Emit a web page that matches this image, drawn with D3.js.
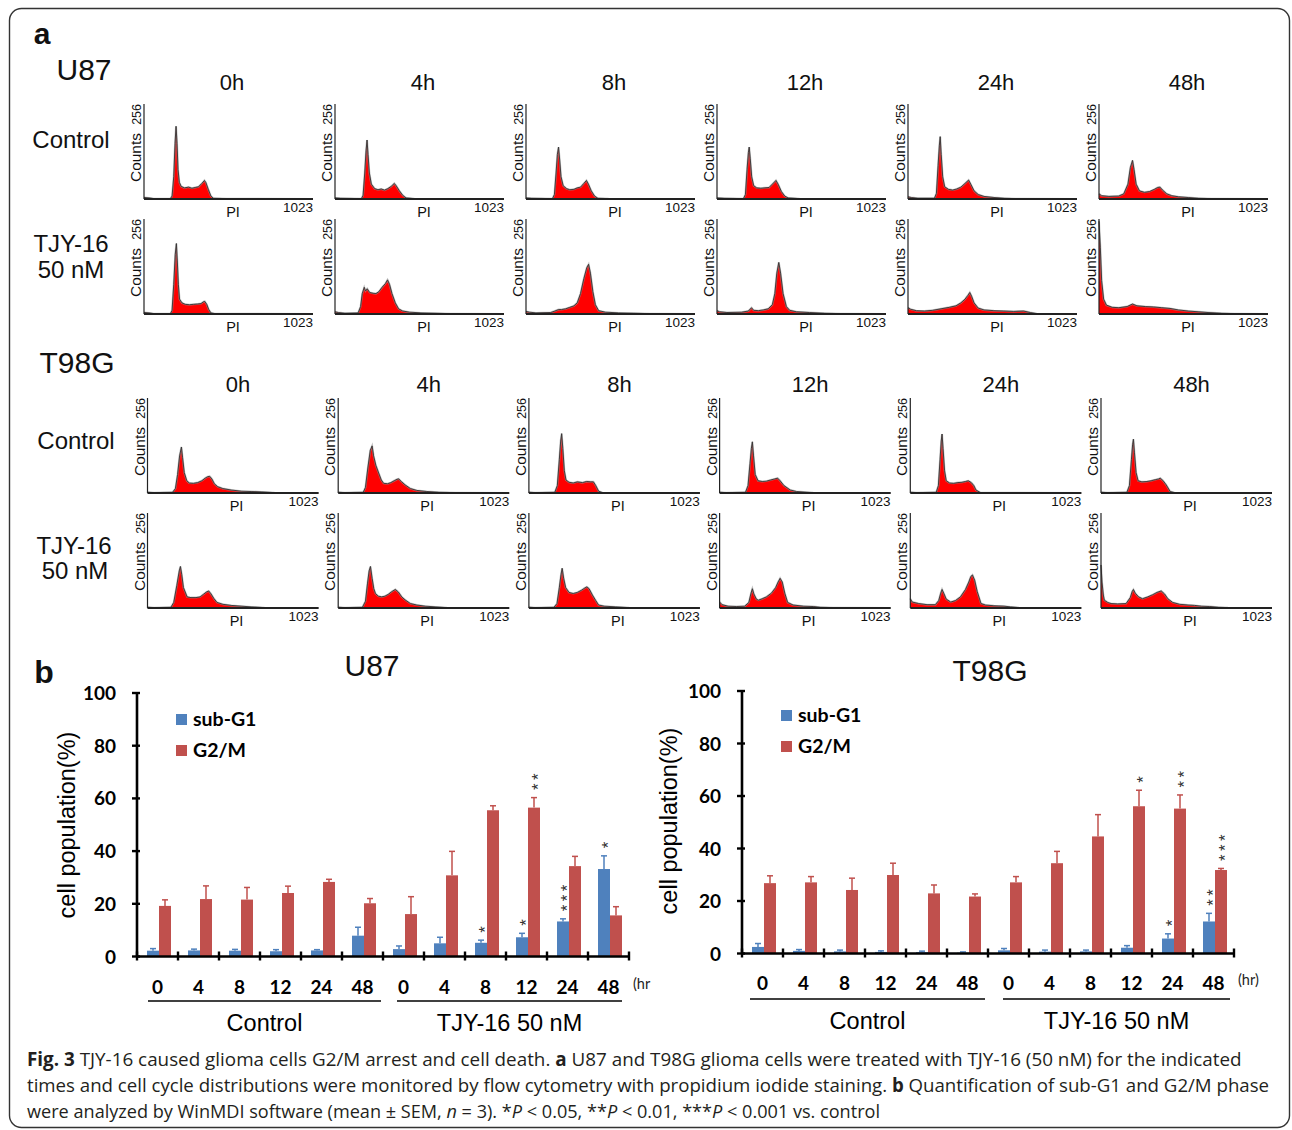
<!DOCTYPE html>
<html>
<head>
<meta charset="utf-8">
<script src="https://cdn.jsdelivr.net/npm/d3@7"></script>
<style>
  body { margin: 0; background: #fff; }
  svg { display: block; }
</style>
</head>
<body>
<div id="figure"></div>
<script>
// ---- data ----
const hours = ['0h', '4h', '8h', '12h', '24h', '48h']
const groupNames = ['Control', 'TJY-16 50 nM']
const hrLabels = ['0', '4', '8', '12', '24', '48', '0', '4', '8', '12', '24', '48']
const yTicks = [0, 20, 40, 60, 80, 100]
const seriesNames = ['sub-G1', 'G2/M']

// flow histograms, [PI channel, counts], one array per time point
const u87Control = [
  [[0,4],[30,3],[60,1],[160,1],[170,8],[180,60],[188,150],[194,196],[200,150],[206,80],[214,45],[225,34],[245,30],[270,32],[290,29],[310,31],[330,33],[350,42],[366,50],[375,44],[390,25],[405,8],[420,2],[500,1],[1023,0]],
  [[0,3],[30,2],[160,1],[170,10],[180,70],[188,130],[194,159],[200,120],[208,70],[220,40],[240,28],[260,25],[280,27],[300,24],[320,28],[340,34],[359,42],[370,36],[390,22],[410,10],[430,3],[480,1],[1023,0]],
  [[0,3],[30,2],[160,1],[172,12],[182,70],[190,120],[197,140],[204,105],[212,60],[225,36],[245,28],[265,25],[290,26],[310,30],[330,32],[350,42],[366,50],[378,40],[395,22],[415,8],[435,2],[500,1],[1023,0]],
  [[0,3],[40,2],[160,1],[172,12],[182,80],[190,125],[195,140],[201,110],[210,60],[222,36],[240,30],[265,29],[290,30],[315,31],[335,40],[357,50],[370,40],[390,20],[410,8],[430,3],[500,1],[1023,0]],
  [[0,6],[20,4],[60,2],[160,2],[172,15],[182,90],[190,145],[195,168],[201,120],[210,60],[222,33],[245,26],[270,24],[295,27],[320,32],[345,42],[367,51],[380,40],[400,22],[425,12],[460,7],[520,4],[580,2],[650,1],[1023,0]],
  [[0,14],[15,9],[60,7],[120,8],[150,14],[175,40],[190,85],[203,104],[212,80],[225,40],[245,22],[275,18],[305,20],[335,26],[355,31],[369,32],[385,24],[410,14],[440,9],[480,6],[540,4],[600,2],[680,1],[1023,0]]
]
const u87Tjy = [
  [[0,4],[30,3],[60,1],[160,1],[170,10],[180,80],[189,160],[196,190],[202,140],[208,80],[215,40],[230,30],[250,26],[275,25],[300,26],[325,27],[345,28],[360,33],[368,34],[380,26],[392,12],[405,3],[430,1],[1023,0]],
  [[0,6],[20,4],[60,2],[140,3],[155,20],[165,55],[177,72],[185,62],[195,68],[210,58],[230,56],[248,55],[265,60],[285,72],[305,82],[318,92],[330,80],[345,55],[365,30],[385,14],[410,8],[450,5],[520,3],[600,2],[700,1],[1023,0]],
  [[0,7],[20,5],[60,3],[150,4],[175,8],[197,12],[215,12],[240,14],[265,18],[290,22],[310,30],[330,55],[350,95],[368,125],[379,134],[390,110],[405,60],[420,25],[440,9],[480,5],[560,3],[650,2],[750,1],[1023,0]],
  [[0,9],[15,6],[60,4],[150,5],[190,8],[209,17],[222,10],[250,9],[280,11],[310,14],[335,25],[350,55],[362,110],[374,139],[385,110],[400,55],[420,20],[440,10],[480,6],[560,4],[650,2],[750,1],[1023,0]],
  [[0,17],[15,13],[50,9],[100,8],[150,10],[200,14],[250,18],[290,22],[320,30],[345,40],[362,50],[374,58],[385,48],[400,30],[425,16],[460,11],[520,9],[580,8],[640,7],[700,8],[740,4],[780,1],[1023,0]],
  [[0,250],[8,180],[16,90],[28,40],[45,24],[80,18],[120,17],[170,20],[203,27],[230,22],[280,20],[330,19],[380,17],[430,15],[480,11],[540,8],[600,6],[660,4],[740,2],[820,1],[1023,0]]
]
const t98gControl = [
  [[0,2],[40,1],[150,2],[167,12],[180,50],[192,100],[203,124],[210,95],[220,55],[235,33],[250,27],[275,26],[300,28],[325,33],[345,40],[360,44],[372,45],[385,38],[400,25],[420,17],[450,12],[500,8],[560,5],[620,4],[680,3],[760,1],[850,0],[1023,0]],
  [[0,2],[40,1],[150,2],[163,15],[178,70],[192,115],[203,127],[212,100],[225,75],[242,54],[258,35],[272,26],[295,25],[315,28],[335,33],[352,37],[362,38],[380,30],[400,22],[432,12],[470,7],[530,4],[600,2],[700,1],[1023,0]],
  [[0,2],[40,1],[155,2],[170,20],[182,90],[190,140],[196,160],[203,120],[212,60],[222,35],[240,29],[265,27],[290,30],[320,28],[345,31],[370,30],[386,30],[400,20],[417,5],[440,1],[1023,0]],
  [[0,2],[40,1],[155,2],[170,20],[182,80],[190,120],[196,138],[203,100],[213,50],[230,33],[255,31],[280,32],[305,35],[330,38],[347,40],[362,33],[385,20],[423,8],[460,4],[520,2],[560,1],[1023,0]],
  [[0,2],[40,1],[155,2],[168,20],[178,90],[185,140],[190,159],[196,120],[205,60],[215,33],[235,27],[260,26],[285,28],[310,29],[330,31],[347,33],[365,28],[380,20],[393,8],[420,1],[1023,0]],
  [[0,2],[40,1],[155,2],[170,20],[182,90],[189,130],[194,145],[200,110],[210,55],[222,33],[245,30],[275,31],[300,33],[325,36],[345,38],[354,40],[370,34],[390,22],[414,4],[440,1],[1023,0]]
]
const t98gTjy = [
  [[0,2],[40,1],[140,2],[157,15],[175,60],[190,100],[197,112],[205,90],[215,55],[237,30],[260,28],[290,28],[315,30],[335,37],[352,43],[366,46],[380,38],[398,25],[416,15],[450,10],[500,7],[560,5],[620,3],[700,1],[1023,0]],
  [[0,2],[40,1],[145,2],[163,18],[175,65],[185,100],[193,112],[203,80],[213,52],[223,39],[240,32],[260,30],[280,32],[300,37],[320,44],[342,50],[360,43],[380,30],[400,22],[432,12],[470,8],[520,5],[580,3],[650,1],[1023,0]],
  [[0,2],[40,1],[150,2],[168,12],[182,55],[192,90],[199,107],[208,80],[220,55],[240,42],[265,39],[290,42],[315,48],[335,54],[347,57],[360,52],[380,35],[400,20],[417,8],[450,5],[520,3],[600,1],[1023,0]],
  [[0,16],[15,9],[50,5],[100,4],[150,5],[175,15],[188,40],[196,52],[205,38],[220,24],[232,21],[255,25],[280,30],[310,40],[335,55],[350,70],[362,80],[375,70],[390,40],[407,15],[440,8],[500,5],[560,4],[600,2],[680,1],[1023,0]],
  [[0,25],[12,16],[50,12],[100,9],[150,9],[170,20],[182,40],[190,50],[200,40],[215,24],[242,16],[270,20],[300,30],[330,50],[350,70],[362,85],[372,89],[385,75],[400,45],[423,12],[450,8],[500,6],[560,5],[600,3],[650,1],[1023,0]],
  [[0,116],[6,70],[14,35],[20,21],[40,15],[60,12],[100,11],[150,12],[175,28],[187,45],[194,50],[205,40],[225,30],[248,25],[280,30],[310,36],[335,42],[360,46],[380,38],[400,25],[429,15],[470,10],[520,8],[560,7],[600,5],[650,4],[700,2],[760,1],[1023,0]]
]

// quantification (%), mean and SEM, 6 control + 6 treated time points
const u87SubG1 = [2.2, 2.3, 2.2, 2.0, 2.3, 7.9, 2.8, 5.0, 5.2, 7.3, 13.3, 33.2]
const u87SubG1Err = [0.8, 0.5, 0.5, 0.6, 0.3, 3.2, 1.2, 2.3, 1.0, 1.5, 1.0, 5.0]
const u87G2M = [19.2, 21.8, 21.6, 24.1, 28.3, 20.2, 16.1, 30.8, 55.5, 56.5, 34.3, 15.6]
const u87G2MErr = [2.3, 5.0, 4.6, 2.6, 1.0, 1.8, 6.6, 9.1, 1.7, 3.8, 3.7, 3.3]
const u87SubG1Stars = [0, 0, 0, 0, 0, 0, 0, 0, 1, 1, 3, 1]
const u87G2MStars = [0, 0, 0, 0, 0, 0, 0, 0, 0, 2, 0, 0]

const t98gSubG1 = [2.5, 1.0, 0.8, 0.6, 0.5, 0.3, 1.2, 0.7, 0.8, 2.2, 5.7, 12.2]
const t98gSubG1Err = [1.3, 0.5, 0.5, 0.4, 0.4, 0.3, 0.7, 0.6, 0.5, 0.8, 1.8, 3.1]
const t98gG2M = [26.8, 27.1, 24.2, 29.9, 22.9, 21.7, 27.1, 34.4, 44.6, 56.1, 55.2, 31.8]
const t98gG2MErr = [2.8, 2.2, 4.5, 4.5, 3.2, 1.0, 2.2, 4.5, 8.3, 6.1, 5.2, 0.6]
const t98gSubG1Stars = [0, 0, 0, 0, 0, 0, 0, 0, 0, 0, 1, 2]
const t98gG2MStars = [0, 0, 0, 0, 0, 0, 0, 0, 0, 1, 2, 3]

// ---- drawing ----
const W = 1292, H = 1130
const ARIAL = 'Liberation Sans, Arial, sans-serif'
const CALIBRI = 'Lato, Carlito, Calibri, sans-serif'
const BLUE = '#4f81bd', RED = '#c0504d'

const svg = d3.select('#figure').append('svg')
  .attr('width', W)
  .attr('height', H)

svg.append('rect')
  .attr('x', 9.5).attr('y', 8.5)
  .attr('width', 1280).attr('height', 1119)
  .attr('rx', 12)
  .attr('fill', 'none')
  .attr('stroke', '#333')
  .attr('stroke-width', 1.4)

function label(txt, x, y, size, opts = {}) {
  return svg.append('text')
    .attr('x', x).attr('y', y)
    .attr('font-family', opts.family || ARIAL)
    .attr('font-size', size)
    .attr('font-weight', opts.weight || 'normal')
    .attr('text-anchor', opts.anchor || 'middle')
    .attr('fill', opts.fill || '#111')
    .text(txt)
}

function drawHistogram(data, x0, top, base, w) {
  const x = d3.scaleLinear().domain([0, 1023]).range([x0, x0 + w])
  const y = d3.scaleLinear().domain([0, 256]).range([base, top])
  const area = d3.area().x(d => x(d[0])).y0(base).y1(d => y(d[1]))
  const line = d3.line().x(d => x(d[0])).y(d => y(d[1]))

  svg.append('path').attr('d', area(data)).attr('fill', '#ff0000')
  svg.append('path').attr('d', line(data))
    .attr('fill', 'none').attr('stroke', '#999').attr('stroke-width', 2).attr('stroke-opacity', 0.6)
  svg.append('path').attr('d', line(data))
    .attr('fill', 'none').attr('stroke', '#333').attr('stroke-width', 0.9)

  svg.append('line')
    .attr('x1', x0).attr('x2', x0).attr('y1', top).attr('y2', base)
    .attr('stroke', '#222').attr('stroke-width', 1.2)
  svg.append('line')
    .attr('x1', x0).attr('x2', x0 + w).attr('y1', base).attr('y2', base)
    .attr('stroke', '#222').attr('stroke-width', 2)

  svg.append('text')
    .attr('transform', `translate(${x0 - 3},${top}) rotate(-90)`)
    .attr('font-family', ARIAL).attr('font-size', 12.5)
    .attr('text-anchor', 'end').attr('fill', '#111')
    .text('256')
  svg.append('text')
    .attr('transform', `translate(${x0 - 3},${(top + base) / 2 + 6}) rotate(-90)`)
    .attr('font-family', ARIAL).attr('font-size', 15.5)
    .attr('text-anchor', 'middle').attr('fill', '#111')
    .text('Counts')
  label('PI', x0 + 89, base + 18, 14.5)
  label('1023', x0 + w, base + 13, 13.5, { anchor: 'end' })
}

function drawCellLine(name, rows, layout) {
  label(name, layout.nameX, layout.nameY, 30)
  hours.forEach((h, i) => {
    label(h, layout.left + i * layout.step + layout.hdrDx, layout.hdrY, 22)
  })
  rows.forEach((sets, r) => {
    sets.forEach((d, i) => {
      drawHistogram(d, layout.left + i * layout.step, layout.tops[r], layout.tops[r] + 95, layout.w)
    })
  })
  layout.rowLabels.forEach(t => label(t.text, t.x, t.y, 24))
}

label('a', 42, 44, 30, { weight: 'bold', family: ARIAL })
drawCellLine('U87', [u87Control, u87Tjy], {
  nameX: 84, nameY: 80, hdrY: 90, hdrDx: 88,
  left: 144, step: 191, w: 169, tops: [104, 219],
  rowLabels: [
    { text: 'Control', x: 71, y: 148 },
    { text: 'TJY-16', x: 71, y: 252 },
    { text: '50 nM', x: 71, y: 278 }
  ]
})
drawCellLine('T98G', [t98gControl, t98gTjy], {
  nameX: 77, nameY: 373, hdrY: 392, hdrDx: 90.5,
  left: 147.5, step: 190.7, w: 171, tops: [398, 513],
  rowLabels: [
    { text: 'Control', x: 76, y: 449 },
    { text: 'TJY-16', x: 74, y: 554 },
    { text: '50 nM', x: 75, y: 579 }
  ]
})

// ---- panel b ----
function drawBars(cfg) {
  const x0 = d3.scaleBand().domain(d3.range(hrLabels.length)).range([cfg.left, cfg.right])
  const x1 = d3.scaleBand().domain([0, 1]).range([10, 34])
  const y = d3.scaleLinear().domain([0, 100]).range([cfg.zero, cfg.hundred])
  const colors = [BLUE, RED]

  label(cfg.title, cfg.titleX, cfg.titleY, 30)

  cfg.series.forEach((s, k) => {
    const g = svg.append('g')
    g.selectAll('rect').data(s.values).enter().append('rect')
      .attr('x', (d, i) => x0(i) + x1(k))
      .attr('y', d => y(d))
      .attr('width', x1.bandwidth())
      .attr('height', d => y(0) - y(d))
      .attr('fill', colors[k])
    // error bars, upper half only
    s.values.forEach((v, i) => {
      const cx = x0(i) + x1(k) + x1.bandwidth() / 2
      const yt = y(v + s.err[i])
      g.append('line').attr('x1', cx).attr('x2', cx).attr('y1', y(v)).attr('y2', yt)
        .attr('stroke', colors[k]).attr('stroke-width', 1.5)
      g.append('line').attr('x1', cx - 3).attr('x2', cx + 3).attr('y1', yt).attr('y2', yt)
        .attr('stroke', colors[k]).attr('stroke-width', 1.5)
      // significance stars, stacked upward in one rotated text
      if (s.stars[i] > 0) {
        svg.append('text')
          .attr('transform', `translate(${cx + 9.6},${yt - 7.5}) rotate(-90)`)
          .attr('font-family', ARIAL).attr('font-size', 17)
          .attr('letter-spacing', 3.4)
          .attr('fill', '#333')
          .text('*'.repeat(s.stars[i]))
      }
    })
  })

  // axes
  svg.append('line').attr('x1', cfg.left).attr('x2', cfg.left)
    .attr('y1', y(0)).attr('y2', y(100))
    .attr('stroke', '#000').attr('stroke-width', 2.6)
  svg.append('line').attr('x1', cfg.left).attr('x2', cfg.right + 1)
    .attr('y1', y(0)).attr('y2', y(0))
    .attr('stroke', '#000').attr('stroke-width', 2.6)
  yTicks.forEach(t => {
    svg.append('line').attr('x1', cfg.left - 5).attr('x2', cfg.left + 3)
      .attr('y1', y(t)).attr('y2', y(t))
      .attr('stroke', '#000').attr('stroke-width', 2.4)
    label(t, cfg.left - 21, y(t) + 7, 19, { anchor: 'end', family: CALIBRI, weight: 'bold', fill: '#000' })
  })
  d3.range(hrLabels.length + 1).forEach(i => {
    const xx = i < hrLabels.length ? x0(i) : cfg.right
    svg.append('line').attr('x1', xx).attr('x2', xx)
      .attr('y1', y(0) - 5).attr('y2', y(0) + 4)
      .attr('stroke', '#000').attr('stroke-width', 2.4)
  })
  hrLabels.forEach((t, i) => {
    label(t, x0(i) + x0.bandwidth() / 2, cfg.catY, 19, { family: CALIBRI, weight: 'bold', fill: '#000' })
  })
  label(cfg.hrText, cfg.hrX, cfg.catY - 5, 14.5, { anchor: 'start', family: CALIBRI, fill: '#222' })

  // group underlines and names
  groupNames.forEach((gname, j) => {
    const a = cfg.groupLines[j]
    svg.append('line').attr('x1', a[0]).attr('x2', a[1])
      .attr('y1', cfg.lineY).attr('y2', cfg.lineY)
      .attr('stroke', '#000').attr('stroke-width', 1.3)
    label(gname, (a[0] + a[1]) / 2, cfg.lineY + 30, 23.5, { fill: '#000' })
  })

  svg.append('text')
    .attr('transform', `translate(${cfg.yLabelX},${cfg.yLabelY}) rotate(-90)`)
    .attr('font-family', ARIAL).attr('font-size', 23.5)
    .attr('text-anchor', 'middle').attr('fill', '#000')
    .text('cell population(%)')

  // legend
  seriesNames.forEach((n, k) => {
    svg.append('rect')
      .attr('x', cfg.legendX).attr('y', cfg.legendY + k * 31 - 6)
      .attr('width', 11).attr('height', 11)
      .attr('fill', colors[k])
    label(n, cfg.legendX + 17, cfg.legendY + k * 31 + 6, 19.5, { anchor: 'start', family: CALIBRI, weight: 'bold', fill: '#000' })
  })
}

label('b', 44, 683, 32, { weight: 'bold' })

drawBars({
  title: 'U87', titleX: 372, titleY: 676,
  left: 137, right: 629, zero: 956.5, hundred: 693,
  series: [
    { values: u87SubG1, err: u87SubG1Err, stars: u87SubG1Stars },
    { values: u87G2M, err: u87G2MErr, stars: u87G2MStars }
  ],
  catY: 994, hrText: '(hr', hrX: 633,
  groupLines: [[148, 381], [397, 622]], lineY: 1001,
  yLabelX: 75, yLabelY: 825,
  legendX: 176, legendY: 720
})

drawBars({
  title: 'T98G', titleX: 990, titleY: 681,
  left: 742, right: 1234, zero: 953.5, hundred: 691,
  series: [
    { values: t98gSubG1, err: t98gSubG1Err, stars: t98gSubG1Stars },
    { values: t98gG2M, err: t98gG2MErr, stars: t98gG2MStars }
  ],
  catY: 990, hrText: '(hr)', hrX: 1238,
  groupLines: [[750, 985], [1003, 1230]], lineY: 999,
  yLabelX: 677, yLabelY: 821,
  legendX: 781, legendY: 716
})

// ---- caption ----
const CAP = 'Liberation Sans Narrow, Open Sans, sans-serif'
const captionLines = [
  { y: 1066, len: 1216, parts: [['Fig. 3', 'bold'], [' TJY-16 caused glioma cells G2/M arrest and cell death. '], ['a', 'bold'], [' U87 and T98G glioma cells were treated with TJY-16 (50 nM) for the indicated']] },
  { y: 1092, len: 1243, parts: [['times and cell cycle distributions were monitored by flow cytometry with propidium iodide staining. '], ['b', 'bold'], [' Quantification of sub-G1 and G2/M phase']] },
  { y: 1118, len: 854, parts: [['were analyzed by WinMDI software (mean ± SEM, '], ['n', 'italic'], [' = 3). *'], ['P', 'italic'], [' < 0.05, **'], ['P', 'italic'], [' < 0.01, ***'], ['P', 'italic'], [' < 0.001 vs. control']] }
]
captionLines.forEach(l => {
  const t = svg.append('text')
    .attr('x', 0).attr('y', 0)
    .attr('font-family', CAP).attr('font-size', 19)
    .attr('fill', '#231f20')
  l.parts.forEach(p => {
    const s = t.append('tspan').text(p[0])
    if (p[1] === 'bold') s.attr('font-weight', 'bold')
    if (p[1] === 'italic') s.attr('font-style', 'italic')
  })
  // squeeze each line to the width it has in the figure
  const natural = t.node().getComputedTextLength()
  t.attr('transform', `translate(27,${l.y}) scale(${l.len / natural},1)`)
})
</script>
</body>
</html>
